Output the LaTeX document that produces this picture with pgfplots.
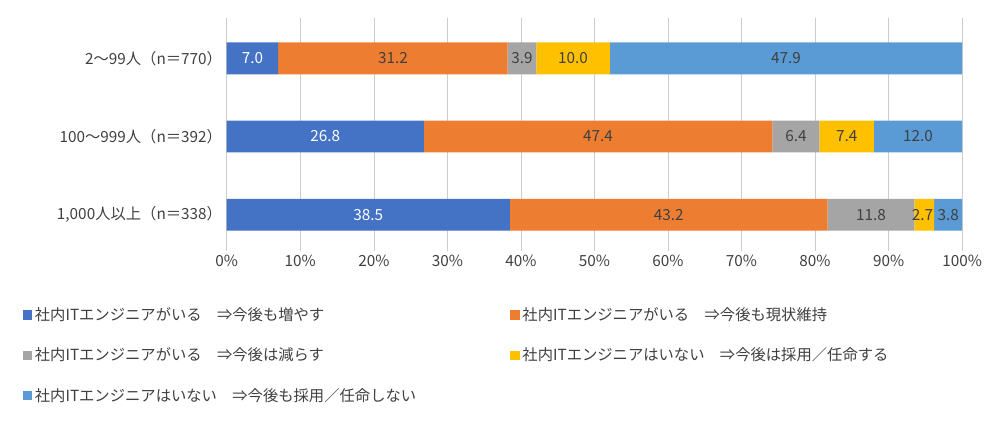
\documentclass[border=0pt]{standalone}
\usepackage{pgfplots}
\pgfplotsset{compat=1.18}
\usepackage{fontspec}
\setmainfont{Noto Sans CJK JP}
\definecolor{c1}{HTML}{4472C4}
\definecolor{c2}{HTML}{ED7D31}
\definecolor{c3}{HTML}{A5A5A5}
\definecolor{c4}{HTML}{FFC000}
\definecolor{c5}{HTML}{5B9BD5}
\definecolor{tx}{HTML}{404040}
\begin{document}
\begin{tikzpicture}[font=\fontsize{11.5}{13}\selectfont]
\pgfplotsset{base/.style={width=552pt,height=175pt,scale only axis,
 xmin=0,xmax=100,ymin=-0.52,ymax=2.46,y dir=reverse}}
\draw[white] (-170pt,-142pt) rectangle (584pt,188pt);
\begin{axis}[base,name=main,
 xbar stacked,bar width=24pt,
 axis line style={draw=none},
 xtick={0,10,...,100},xmajorgrids,major grid style={gray!40},
 xticklabel={\pgfmathprintnumber{\tick}\%},
 /pgf/number format/assume math mode=true,
 major tick length=0pt,
 ytick={0,1,2},yticklabels={2～99人（n＝770）,100～999人（n＝392）,{1,000人以上（n＝338）}},
 ticklabel style={text=tx},
 legend columns=2,
 legend style={draw=none,at={(rel axis cs:-0.283,-0.22)},anchor=north west,
   nodes={text width=355pt,text=tx,align=left},row sep=15pt,
   /tikz/every even column/.append style={column sep=0pt}},
 legend image code/.code={\fill[#1] (0pt,-3.5pt) rectangle (7pt,3.5pt);},
]
\addplot[fill=c1,draw=none] coordinates {(7.0,0) (26.8,1) (38.5,2)};
\addplot[fill=c2,draw=none] coordinates {(31.2,0) (47.4,1) (43.2,2)};
\addplot[fill=c3,draw=none] coordinates {(3.9,0) (6.4,1) (11.8,2)};
\addplot[fill=c4,draw=none] coordinates {(10.0,0) (7.4,1) (2.7,2)};
\addplot[fill=c5,draw=none] coordinates {(47.9,0) (12.0,1) (3.8,2)};
\legend{社内ITエンジニアがいる　⇒今後も増やす,社内ITエンジニアがいる　⇒今後も現状維持,社内ITエンジニアがいる　⇒今後は減らす,社内ITエンジニアはいない　⇒今後は採用／任命する,社内ITエンジニアはいない　⇒今後も採用／任命しない}
\end{axis}
\begin{axis}[base,hide axis,
 nodes near coords,point meta=explicit symbolic,
 every node near coord/.append style={anchor=center,font=\fontsize{11.5}{13}\selectfont}]
\addplot[only marks,mark=none,nodes near coords style={text=white}] table[meta=l] {
x y l
3.5 0 7.0
13.4 1 26.8
19.25 2 38.5
};
\addplot[only marks,mark=none,nodes near coords style={text=tx}] table[meta=l] {
x y l
22.6 0 31.2
40.15 0 3.9
47.1 0 10.0
76.05 0 47.9
50.5 1 47.4
77.4 1 6.4
84.3 1 7.4
94 1 12.0
60.1 2 43.2
87.6 2 11.8
94.6 2 2.7
98.1 2 3.8
};
\end{axis}
\end{tikzpicture}
\end{document}
